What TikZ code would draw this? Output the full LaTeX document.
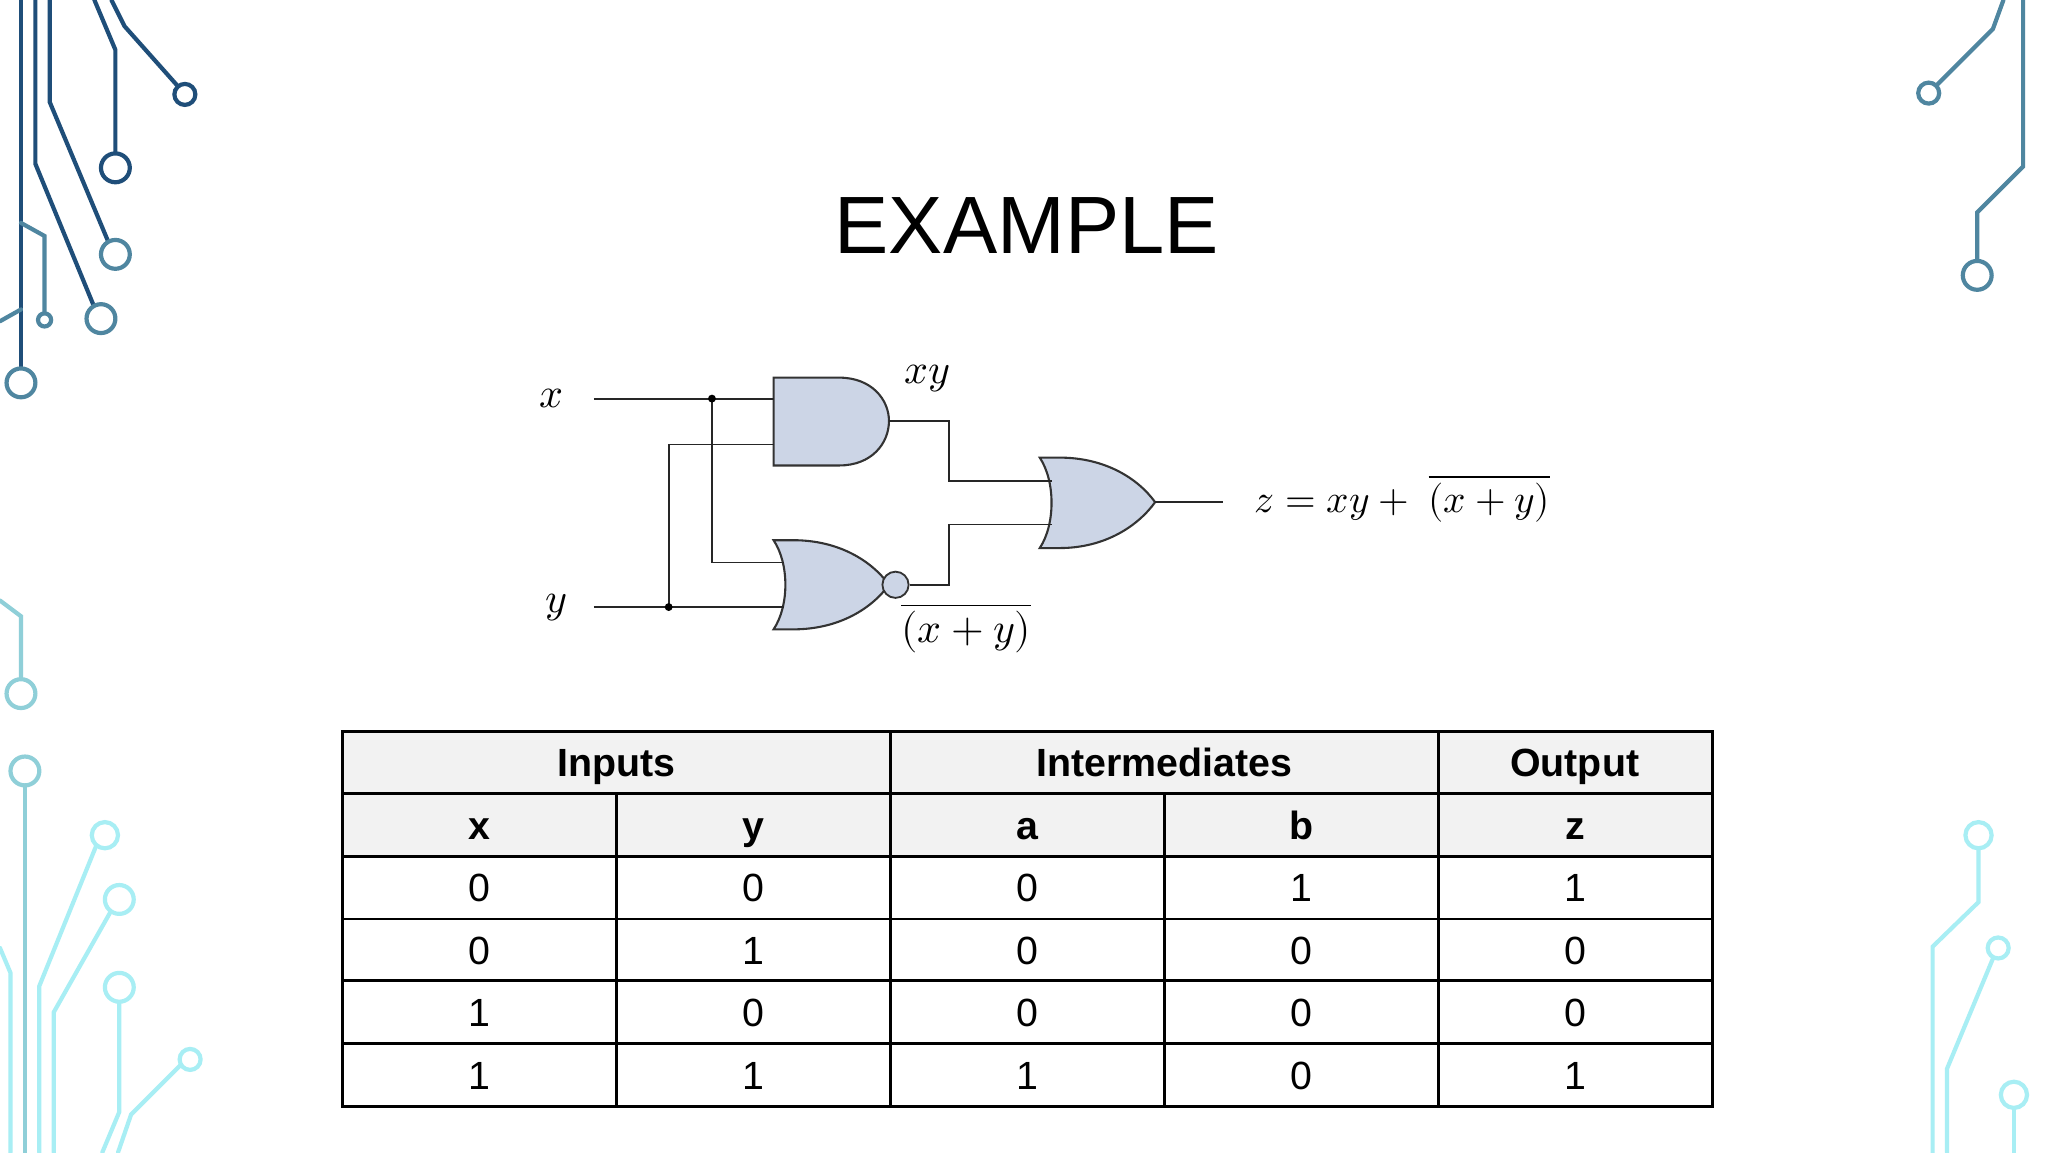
\documentclass[tikz,border=0pt]{standalone}
\usepackage{fontspec}
\setmainfont{Liberation Sans}
\usepackage{unicode-math}
\begin{document}
\begin{tikzpicture}[x=0.5pt,y=-0.5pt,
  wire/.style={line width=0.7pt,black!85},
  gate/.style={draw=black!80,line width=0.8pt,fill=gatefill},
  lbl/.style={font=\fontsize{16}{18}\selectfont},
  cell/.style={font=\fontsize{15}{17}\selectfont,anchor=base},
  head/.style={font=\fontsize{15}{17}\selectfont\bfseries,anchor=base},
  dec/.style={line width=1.6pt,line cap=round},
  pad/.style={line width=1.6pt}]
\definecolor{gatefill}{HTML}{CCD5E6}
\definecolor{dkb}{HTML}{1F4E79}
\definecolor{stb}{HTML}{4F86A0}
\definecolor{tl}{HTML}{8FCFD8}
\definecolor{cy}{HTML}{A8EEF4}
\definecolor{hd}{HTML}{F2F2F2}
\useasboundingbox (0,0) rectangle (1562,879);
\fill[white] (0,0) rectangle (1562,879);
% decorations left top
\draw[dec,dkb] (16,0) -- (16,281); \draw[pad,draw=stb,fill=white] (16,292) circle (11);
\draw[dec,dkb] (27,0) -- (27,125) -- (71,232); \draw[pad,draw=stb,fill=white] (77,243) circle (11);
\draw[dec,dkb] (38,0) -- (38,78) -- (82,183); \draw[pad,draw=stb,fill=white] (88,194) circle (11);
\draw[dec,dkb] (72,0) -- (88,38) -- (88,117); \draw[pad,draw=dkb,fill=white] (88,128) circle (11);
\draw[dec,dkb] (85,0) -- (95,20) -- (135,65); \draw[pad,draw=dkb,fill=white] (141,72) circle (8);
\draw[dec,stb] (16,170) -- (34,180) -- (34,239); \draw[pad,draw=stb,fill=white] (34,244) circle (5);
\draw[dec,stb] (0,245) -- (16,236);
% left middle
\draw[dec,tl] (0,458) -- (16,470) -- (16,518); \draw[pad,draw=tl,fill=white] (16,529) circle (11);
% left bottom
\draw[dec,tl] (19,599) -- (19,879); \draw[pad,draw=tl,fill=white] (19,588) circle (11);
\draw[dec,cy] (73,646) -- (30,752) -- (30,879); \draw[pad,draw=cy,fill=white] (80,637) circle (10);
\draw[dec,cy] (84,696) -- (41,772) -- (41,879); \draw[pad,draw=cy,fill=white] (91,686) circle (11);
\draw[dec,cy] (91,764) -- (91,848) -- (78,879); \draw[pad,draw=cy,fill=white] (91,753) circle (11);
\draw[dec,cy] (138,812) -- (100,850) -- (90,879); \draw[pad,draw=cy,fill=white] (145,808) circle (8);
\draw[dec,cy] (0,723) -- (8,742) -- (8,879);
% right top
\draw[dec,stb] (1528,0) -- (1520,22) -- (1477,65); \draw[pad,draw=stb,fill=white] (1471,71) circle (8);
\draw[dec,stb] (1543,0) -- (1543,127) -- (1508,162) -- (1508,199); \draw[pad,draw=stb,fill=white] (1508,210) circle (11);
% right bottom
\draw[dec,cy] (1509,648) -- (1509,688) -- (1474,722) -- (1474,879); \draw[pad,draw=cy,fill=white] (1509,637) circle (10);
\draw[dec,cy] (1520,731) -- (1485,815) -- (1485,879); \draw[pad,draw=cy,fill=white] (1524,723) circle (8);
\draw[dec,cy] (1536,846) -- (1536,879); \draw[pad,draw=cy,fill=white] (1536,835) circle (10);
% title
\node[font=\fontsize{31}{35}\selectfont] (title) at (783,172) {EXAMPLE};
% circuit
\node[lbl] (lx) at (421,304) {$x$};
\node[lbl] (ly) at (424,463) {$y$};
\coordinate (xs) at (453,304); \coordinate (ys) at (453,463);
\draw[gate] (590,288) -- (640,288) .. controls (665,288) and (678,305) .. (678,321) .. controls (678,338) and (665,355) .. (640,355) -- (590,355) -- cycle;
\draw[gate] (590,412) -- (605,412) .. controls (640,412) and (665,428) .. (678,446) .. controls (665,464) and (640,480) .. (605,480) -- (590,480) .. controls (602,462) and (602,430) .. cycle;
\draw[gate] (793,349) -- (808,349) .. controls (843,349) and (868,365) .. (881,383) .. controls (868,401) and (843,418) .. (808,418) -- (793,418) .. controls (805,400) and (805,367) .. cycle;
\node[draw=black!80,fill=gatefill,circle,inner sep=0pt,minimum size=10pt,line width=0.7pt] (bub) at (683,446) {};
\coordinate (a1) at (590,304); \coordinate (a2) at (590,339);
\coordinate (n1) at (598,429); \coordinate (n2) at (598,463);
\coordinate (ao) at (678,321);
\coordinate (o1) at (802,367); \coordinate (o2) at (802,400);
\coordinate (oo) at (881,383); \coordinate (zo) at (933,383);
\coordinate (jx) at (543,304); \coordinate (jy) at (510,463);
\draw[wire] (xs) -- (a1);
\draw[wire] (ys) -- (n2);
\draw[wire] (jx) |- (n1);
\draw[wire] (jy) |- (a2);
\draw[wire] (ao) -- (724,321) |- (o1);
\draw[wire] (bub) -- (724,446) |- (o2);
\draw[wire] (oo) -- (zo);
\fill (jx) circle (3); \fill (jy) circle (3);
\node[lbl] (lxy) at (707,289) {$xy$};
\node[lbl] (lnor) at (737,479) {$\overline{(x+y)}$};
\node[lbl,anchor=west,font=\fontsize{15}{17}\selectfont] (lz) at (950,380) {$z=xy+\;\overline{(x+y)}$};
% table
\fill[hd] (261,558) rectangle (1306,653);
\draw[line width=1pt] (261,558) rectangle (1306,844);
\foreach \yy in {605,653,701,748,796} \draw[line width=1pt] (261,\yy) -- (1306,\yy);
\draw[line width=1pt] (679,558) -- (679,844);
\draw[line width=1pt] (1097,558) -- (1097,844);
\foreach \xx in {470,888} \draw[line width=1pt] (\xx,605) -- (\xx,844);
\node[head] (hin) at (470,592) {Inputs};
\node[head] (hint) at (888,592) {Intermediates};
\node[head] (hout) at (1201,592) {Output};
\foreach \t [count=\i] in {x,y,a,b,z} \node[head] (c\i) at (261+209*\i-104.5,640) {\t};
\foreach \r [count=\j] in {{0,0,0,1,1},{0,1,0,0,0},{1,0,0,0,0},{1,1,1,0,1}} {
  \foreach \v [count=\i] in \r
    \node[cell] (r\j c\i) at (261+209*\i-104.5,640+47.7*\j) {\v};
}
\end{tikzpicture}
\end{document}
